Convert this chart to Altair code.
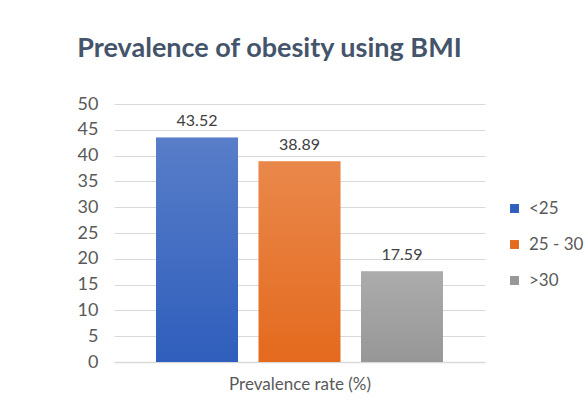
import altair as alt
import pandas as pd

categories = ["<25", "25 - 30", ">30"]
values = [43.52, 38.89, 17.59]
labels = ["43.52", "38.89", "17.59"]
colors = ["#2F5EBC", "#E46A1E", "#979797"]

df = pd.DataFrame({"cat": categories, "val": values, "lab": labels})

x_enc = alt.X(
    "cat:N",
    sort=categories,
    scale=alt.Scale(paddingInner=0.2, paddingOuter=0.41),
    axis=alt.Axis(
        labels=False, ticks=False, title="Prevalence rate (%)",
        titleFont="Lato", titleFontSize=17, titleFontWeight="normal",
        titleColor="#595959", titlePadding=14,
        domainColor="#D9D9D9", domainWidth=1.5,
    ),
)
y_enc = alt.Y(
    "val:Q",
    scale=alt.Scale(domain=[0, 50]),
    axis=alt.Axis(
        values=list(range(0, 55, 5)), title=None, domain=False, ticks=False,
        labelFont="Lato", labelFontSize=18, labelColor="#595959",
        labelPadding=16, gridColor="#D9D9D9", gridWidth=1,
    ),
)

base = alt.Chart(df).encode(x=x_enc, y=y_enc)

bars = base.mark_bar().encode(
    color=alt.Color(
        "cat:N", sort=categories,
        scale=alt.Scale(domain=categories, range=colors),
        legend=alt.Legend(
            title=None, orient="none", legendX=392, legendY=96,
            symbolType="square", symbolSize=80, symbolStrokeWidth=0,
            labelFont="Lato", labelFontSize=17, labelColor="#595959",
            rowPadding=18, labelOffset=6,
        ),
    )
)

shine = base.mark_bar(
    color=alt.Gradient(
        gradient="linear",
        stops=[
            alt.GradientStop(color="rgba(255,255,255,0.2)", offset=0),
            alt.GradientStop(color="rgba(255,255,255,0)", offset=1),
        ],
        x1=0, x2=0, y1=0, y2=1,
    )
)

text = base.mark_text(
    baseline="bottom", dy=-8, font="Lato", fontSize=16, color="#404040"
).encode(text="lab:N")

chart = (
    alt.layer(bars, shine, text)
    .properties(
        width=371, height=258,
        title=alt.TitleParams(
            "Prevalence of obesity using BMI", font="Lato", fontSize=27,
            fontWeight="bold", color="#44546A", anchor="middle", dx=-30,
            offset=32,
        ),
        autosize=alt.AutoSizeParams(type="none"),
        padding={"left": 114, "top": 104, "right": 103, "bottom": 53},
        background="white",
    )
    .configure_view(stroke=None)
)

chart.save("out.html", embed_options={"renderer": "svg", "actions": False})
